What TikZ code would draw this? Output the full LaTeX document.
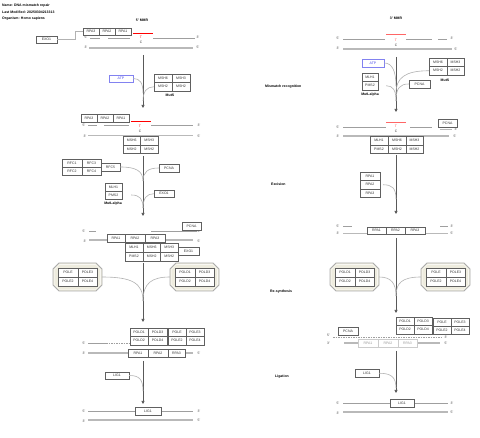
\documentclass[tikz,border=0pt]{standalone}
\usepackage{fontspec}
\setmainfont{Liberation Sans}
\usetikzlibrary{arrows.meta}
\definecolor{ivory}{RGB}{238,236,222}
\definecolor{atpblue}{RGB}{70,70,235}
\definecolor{atpedge}{RGB}{130,130,240}
\tikzset{
 gp/.style={draw=gray!75!black, line width=0.45pt, fill=white, inner sep=0pt, font=\fontsize{3.5}{4}\selectfont, text=black!80},
 strand/.style={draw=gray!75, line width=0.7pt},
 strandb/.style={draw=gray!55, line width=1.1pt},
 lbl/.style={font=\fontsize{3.4}{4}\selectfont, inner sep=0pt, text=black!75},
 flow/.style={draw=gray!60, line width=0.6pt},
 mainln/.style={draw=black!65, line width=0.7pt},
 tipped/.style={-{Triangle[length=3pt,width=3pt]}},
 hdr/.style={font=\bfseries\fontsize{3.5}{4}\selectfont, inner sep=0pt, anchor=west},
 grp/.style={font=\bfseries\fontsize{3.5}{4}\selectfont, inner sep=0pt},
 oct/.style={draw=gray!65, fill=ivory, line width=0.9pt},
 octin/.style={draw=white, line width=0.3pt},
 mm/.style={draw=red, line width=1pt},
 atpbox/.style={gp, draw=atpedge, text=atpblue, line width=0.6pt},
}
\newcommand\bx[6]{\node[gp, minimum width={(#4-#2)*1pt}, minimum height={(#5-#3)*1pt}] (#1) at ({(#2+#4)/2},{(#3+#5)/2}) {#6};}
\newcommand\fbx[6]{\node[gp, draw=gray!40, text=black!40, minimum width={(#4-#2)*1pt}, minimum height={(#5-#3)*1pt}] (#1) at ({(#2+#4)/2},{(#3+#5)/2}) {#6};}
\newcommand\octa[5]{\draw[oct] (#2+6,#3) -- (#4-6,#3) -- (#4,#3+6) -- (#4,#5-6) -- (#4-6,#5) -- (#2+6,#5) -- (#2,#5-6) -- (#2,#3+6) -- cycle;
 \draw[octin] (#2+6.6,#3+1.4) -- (#4-6.6,#3+1.4) -- (#4-1.4,#3+6.6) -- (#4-1.4,#5-6.6) -- (#4-6.6,#5-1.4) -- (#2+6.6,#5-1.4) -- (#2+1.4,#5-6.6) -- (#2+1.4,#3+6.6) -- cycle;
 \coordinate (#1W) at (#2,{(#3+#5)/2}); \coordinate (#1E) at (#4,{(#3+#5)/2});}
\begin{document}
\begin{tikzpicture}[x=1pt,y=-1pt]
\useasboundingbox (0,0) rectangle (480,438);
\fill[white] (0,0) rectangle (480,438);
% header
\node[hdr] (h1) at (2,6) {Name: DNA mismatch repair};
\node[hdr] (h2) at (2,12.5) {Last Modified: 20250304213313};
\node[hdr] (h3) at (2,19) {Organism: Homo sapiens};
\node[grp] (t1) at (142,20) {5' MMR};
\node[grp] (t2) at (396,18) {3' MMR};
% section labels
\node[hdr] (s1) at (265,87) {Mismatch recognition};
\node[hdr] (s2) at (271,184.5) {Excision};
\node[hdr] (s3) at (270,292) {Re-synthesis};
\node[hdr] (s4) at (275,376.5) {Ligation};

%%%%%%%% LEFT STAGE 1
\draw[strand] (90,38) -- (100,38) (108,38) -- (130,38) (153,38) -- (195,38);
\draw[strandb] (89,48) -- (193,48);
\draw[mm] (133,34) -- (153,34);
\node[lbl,text=red] (lT1) at (141,37.5) {T};
\node[lbl] (lC1) at (141,42) {C};
\node[lbl] (a1) at (86,37) {5'}; \node[lbl] (a2) at (198,37) {3'};
\node[lbl] (a3) at (86,47.5) {3'}; \node[lbl] (a4) at (198,47.5) {5'};
\bx{exoA}{36}{36}{57}{43}{EXO1}
\bx{rpa3A}{83}{28}{99}{35}{RPA3}
\bx{rpa2A}{99}{28}{115}{35}{RPA2}
\bx{rpa1A}{115}{28}{131}{35}{RPA1}
\coordinate (ea1) at (75,39.5); \coordinate (ea2) at (75,31.5);
\draw[flow] (exoA.east) -- (ea1) -- (ea2) -- (rpa3A.west);
\coordinate (m1s) at (143,55); \coordinate (m1e) at (143,108);
\draw[mainln,tipped] (m1s) -- (m1e);
\node[atpbox,minimum width=24pt,minimum height=7pt] (atpA) at (121,78.5) {ATP};
\bx{msh6A}{154}{74}{172}{82.5}{MSH6}
\bx{msh3A}{172}{74}{190}{82.5}{MSH3}
\bx{msh2A}{154}{82.5}{172}{91}{MSH2}
\bx{msh2bA}{172}{82.5}{190}{91}{MSH2}
\node[grp] (mutsA) at (170,95.5) {MutS};
\coordinate (j1a) at (143,93); \coordinate (j1b) at (143,101);
\draw[flow] (atpA.east) .. controls (140,78.5) and (143,83) .. (j1a);
\draw[flow] (msh2A.west) .. controls (147,87) and (143,91) .. (j1b);

%%%%%%%% LEFT STAGE 2
\draw[strand] (88,125.5) -- (97,125.5) (104,125.5) -- (129,125.5) (151,125.5) -- (193,125.5);
\draw[strandb] (88,135.5) -- (193,135.5);
\draw[mm] (131,122) -- (151,122);
\node[lbl,text=red] (lT2) at (140,126) {T};
\node[lbl] (lC2) at (140,131) {C};
\node[lbl] (b1) at (84,125) {5'}; \node[lbl] (b2) at (199,125) {3'};
\node[lbl] (b3) at (85,136) {3'}; \node[lbl] (b4) at (199,136) {5'};
\bx{rpa3B}{81}{114}{97}{122}{RPA3}
\bx{rpa2B}{97}{114}{113}{122}{RPA2}
\bx{rpa1B}{113}{114}{129}{122}{RPA1}
\bx{msh6B}{123}{136.5}{140.5}{144.8}{MSH6}
\bx{msh3B}{140.5}{136.5}{158}{144.8}{MSH3}
\bx{msh2B}{123}{144.8}{140.5}{153}{MSH2}
\bx{msh2bB}{140.5}{144.8}{158}{153}{MSH2}
\coordinate (m2s) at (143,156); \coordinate (m2e) at (143,216);
\draw[mainln,tipped] (m2s) -- (m2e);
\bx{rfc1B}{62}{159}{82}{167}{RFC1}
\bx{rfc3B}{82}{159}{101}{167}{RFC3}
\bx{rfc2B}{62}{167}{82}{175}{RFC2}
\bx{rfc4B}{82}{167}{101}{175}{RFC4}
\bx{rfc5B}{101}{163}{120}{171}{RFC5}
\bx{pcnaB}{159}{164}{179}{172}{PCNA}
\bx{mlh1B}{105}{183}{122}{191}{MLH1}
\bx{pms2B}{105}{191}{122}{199}{PMS2}
\node[grp] (mutlB) at (113,203.5) {MutLalpha};
\bx{exoB}{154}{190}{174}{197.5}{EXO1}
\coordinate (j2a) at (143,181); \coordinate (j2b) at (143,208);
\draw[flow] (rfc5B.east) .. controls (136,167) and (143,171) .. (j2a);
\draw[flow] (pcnaB.west) .. controls (148,168) and (143,172) .. (j2a);
\draw[flow,shorten <=9pt] (pms2B.east) .. controls (140,195) and (143,199) .. (j2b);
\draw[flow] (exoB.west) .. controls (147,193.75) and (143,198) .. (j2b);

%%%%%%%% LEFT STAGE 3
\draw[strand] (89,231) -- (96,231) (151,231) -- (197,231);
\draw[strandb] (89,240) -- (193,240);
\node[lbl] (c1) at (84,231) {5'}; \node[lbl] (c2) at (199,231.5) {3'};
\node[lbl] (c3) at (85,241) {3'}; \node[lbl] (c4) at (199,241) {5'};
\bx{pcnaC}{182}{222}{201}{230}{PCNA}
\bx{rpa1C}{107}{234}{125}{242}{RPA1}
\bx{rpa2C}{125}{234}{145}{242}{RPA2}
\bx{rpa3C}{145}{234}{165}{242}{RPA3}
\bx{mlh1C}{125}{243}{143}{252}{MLH1}
\bx{msh6C}{143}{243}{160.5}{252}{MSH6}
\bx{msh3C}{160.5}{243}{178}{252}{MSH3}
\bx{pms2C}{125}{252}{143}{261}{PMS2}
\bx{msh2C}{143}{252}{160.5}{261}{MSH2}
\bx{msh2bC}{160.5}{252}{178}{261}{MSH2}
\bx{exoC}{178}{247}{199}{255}{EXO1}
\coordinate (m3s) at (143,263); \coordinate (m3e) at (143,322);
\draw[mainln,tipped] (m3s) -- (m3e);
\octa{oL}{53}{263}{102}{291}
\bx{poleC}{58}{268}{78}{277}{POLE}
\bx{pole3C}{78}{268}{97}{277}{POLE3}
\bx{pole2C}{58}{277}{78}{286}{POLE2}
\bx{pole4C}{78}{277}{97}{286}{POLE4}
\octa{oR}{170}{263}{219}{291}
\bx{pold1C}{175}{268}{195}{277}{POLD1}
\bx{pold3C}{195}{268}{214}{277}{POLD3}
\bx{pold2C}{175}{277}{195}{286}{POLD2}
\bx{pold4C}{195}{277}{214}{286}{POLD4}
\coordinate (j3) at (143,301);
\draw[flow] (oLE) .. controls (132,277) and (143,283) .. (j3);
\draw[flow] (oRW) .. controls (152,277) and (143,283) .. (j3);

%%%%%%%% LEFT STAGE 4
\draw[strand] (88,343.5) -- (106,343.5);
\draw[strand,dashed,dash pattern=on 1.5pt off 1pt] (106,343.5) -- (130,343.5);
\draw[strandb] (88,353) -- (193,353);
\node[lbl] (d1) at (84,343.5) {5'};
\node[lbl] (d3) at (84,353.5) {3'}; \node[lbl] (d4) at (199,353.5) {5'};
\bx{pold1D}{130}{328}{148}{336.5}{POLD1}
\bx{pold3D}{148}{328}{167}{336.5}{POLD3}
\bx{pold2D}{130}{336.5}{148}{345}{POLD2}
\bx{pold4D}{148}{336.5}{167}{345}{POLD4}
\bx{poleD}{168}{328}{186}{336.5}{POLE}
\bx{pole3D}{186}{328}{204}{336.5}{POLE3}
\bx{pole2D}{168}{336.5}{186}{345}{POLE2}
\bx{pole4D}{186}{336.5}{204}{345}{POLE4}
\bx{rpa1D}{128}{349}{148}{357}{RPA1}
\bx{rpa2D}{148}{349}{168}{357}{RPA2}
\bx{rpa3D}{168}{349}{185}{357}{RPA3}
\coordinate (m4s) at (143,361); \coordinate (m4e) at (143,404);
\draw[mainln,tipped] (m4s) -- (m4e);
\bx{ligD}{105}{372}{129}{379}{LIG1}
\coordinate (j4) at (143,391);
\draw[flow] (ligD.east) .. controls (139,375.5) and (143,379) .. (j4);
\draw[strand] (88,411) -- (135,411) (161,411) -- (193,411);
\draw[strandb] (88,420) -- (193,420);
\bx{ligE}{135}{407}{161}{415}{LIG1}
\node[lbl] (e1) at (84,411) {5'}; \node[lbl] (e2) at (199,411) {3'};
\node[lbl] (e3) at (84,421.5) {3'}; \node[lbl] (e4) at (199,420.5) {5'};

%%%%%%%% RIGHT STAGE 1
\draw[strand] (343,39) -- (385,39) (406,39) -- (432,39) (438,39) -- (447,39);
\draw[strandb] (343,49) -- (452,49);
\draw[mm,draw=red!60] (386,35) -- (406,35);
\node[lbl,text=red!70] (rT1) at (396,40) {T};
\node[lbl] (rC1) at (396,45) {C};
\node[lbl] (f1) at (338,38.5) {5'}; \node[lbl] (f2) at (452,38.5) {3'};
\node[lbl] (f3) at (338,48.5) {3'}; \node[lbl] (f4) at (456,49) {5'};
\coordinate (r1s) at (396,57); \coordinate (r1e) at (396,112);
\draw[mainln,tipped] (r1s) -- (r1e);
\node[atpbox,minimum width=22pt,minimum height=8pt] (atpR) at (373,63) {ATP};
\bx{msh6R}{429}{58}{447}{66.5}{MSH6}
\bx{msh3R}{447}{58}{464}{66.5}{MSH3}
\bx{msh2R}{429}{66.5}{447}{75}{MSH2}
\bx{msh2bR}{447}{66.5}{464}{75}{MSH2}
\node[grp] (mutsR) at (445,80) {MutS};
\bx{mlh1R}{362}{73}{378}{81.5}{MLH1}
\bx{pms2R}{362}{81.5}{378}{90}{PMS2}
\node[grp] (mutlR) at (370,95) {MutLalpha};
\bx{pcnaR}{409}{80}{430}{88}{PCNA}
\coordinate (k1a) at (396,86); \coordinate (k1b) at (396,93); \coordinate (k1c) at (396,101);
\draw[flow] (atpR.east) .. controls (392,63) and (396,71) .. (k1a);
\draw[flow] (msh2R.west) .. controls (405,70.75) and (396,78) .. (k1b);
\draw[flow,shorten <=8pt] (pms2R.east) .. controls (393,85.75) and (396,90) .. (k1c);
\draw[flow] (pcnaR.west) .. controls (400,84) and (396,88) .. (k1c);

%%%%%%%% RIGHT STAGE 2
\draw[strand] (343,127) -- (386,127) (410,127) -- (432,127);
\draw[strandb] (440,129.5) -- (452,129.5);
\draw[strandb] (343,136) -- (449,136);
\draw[mm,draw=red!60] (386,122.5) -- (406,122.5);
\node[lbl,text=red!70] (rT2) at (396,126) {T};
\node[lbl] (rC2) at (396,131) {C};
\node[lbl] (g1) at (338,127.5) {5'}; \node[lbl] (g2) at (456,129) {3'};
\node[lbl] (g3) at (338,136.5) {3'}; \node[lbl] (g4) at (455,136.5) {5'};
\bx{pcnaRB}{438}{119}{457}{127.5}{PCNA}
\bx{mlh1RB}{370}{136.5}{388}{144.8}{MLH1}
\bx{msh6RB}{388}{136.5}{406}{144.8}{MSH6}
\bx{msh3RB}{406}{136.5}{423}{144.8}{MSH3}
\bx{pms2RB}{370}{144.8}{388}{153}{PMS2}
\bx{msh2RB}{388}{144.8}{406}{153}{MSH2}
\bx{msh2bRB}{406}{144.8}{423}{153}{MSH2}
\coordinate (r2s) at (396,155); \coordinate (r2e) at (396,214);
\draw[mainln,tipped] (r2s) -- (r2e);
\bx{rpa1RB}{360}{172}{380}{180.5}{RPA1}
\bx{rpa2RB}{360}{180.5}{380}{189}{RPA2}
\bx{rpa3RB}{360}{189}{380}{197.5}{RPA3}
\coordinate (k2) at (396,199);
\draw[flow,shorten <=3pt] (rpa2RB.east) .. controls (392,184.75) and (396,188) .. (k2);

%%%%%%%% RIGHT STAGE 3
\draw[strand] (343,226) -- (352,226) (440,226) -- (448,226);
\draw[strandb] (343,233.5) -- (448,233.5);
\node[lbl] (p1) at (338,226) {5'}; \node[lbl] (p2) at (452,226) {3'};
\node[lbl] (p3) at (338,233.5) {3'}; \node[lbl] (p4) at (452,233.5) {5'};
\bx{rpa1RC}{367}{227}{386}{234.5}{RPA1}
\bx{rpa2RC}{386}{227}{405}{234.5}{RPA2}
\bx{rpa3RC}{405}{227}{425}{234.5}{RPA3}
\coordinate (r3s) at (396,238); \coordinate (r3e) at (396,313);
\draw[mainln,tipped] (r3s) -- (r3e);
\octa{qL}{330}{263}{379}{291}
\bx{pold1RC}{335}{268}{355}{277}{POLD1}
\bx{pold3RC}{355}{268}{374}{277}{POLD3}
\bx{pold2RC}{335}{277}{355}{286}{POLD2}
\bx{pold4RC}{355}{277}{374}{286}{POLD4}
\octa{qR}{421}{263}{470}{291}
\bx{poleRC}{426}{268}{446}{277}{POLE}
\bx{pole3RC}{446}{268}{465}{277}{POLE3}
\bx{pole2RC}{426}{277}{446}{286}{POLE2}
\bx{pole4RC}{446}{277}{465}{286}{POLE4}
\coordinate (k3) at (396,296);
\draw[flow] (qLE) .. controls (391,277) and (396,283) .. (k3);
\draw[flow] (qRW) .. controls (402,277) and (396,283) .. (k3);

%%%%%%%% RIGHT STAGE 4
\draw[strand,dashed,dash pattern=on 1.5pt off 1pt] (333,337) -- (441,337);
\draw[strandb] (344,343) -- (440,343);
\node[lbl] (q1) at (328.5,335.5) {5'}; \node[lbl] (q2) at (446,337) {3'};
\node[lbl] (q3) at (328.5,343.5) {3'}; \node[lbl] (q4) at (446,343.5) {5'};
\bx{pcnaRD}{338}{327}{358}{335}{PCNA}
\bx{pold1RD}{396}{317}{414}{325.5}{POLD1}
\bx{pold3RD}{414}{317}{432}{325.5}{POLD3}
\bx{pold2RD}{396}{325.5}{414}{334}{POLD2}
\bx{pold4RD}{414}{325.5}{432}{334}{POLD4}
\bx{poleRD}{433}{318}{451}{326.2}{POLE}
\bx{pole3RD}{451}{318}{469}{326.2}{POLE3}
\bx{pole2RD}{433}{326.2}{451}{334.5}{POLE2}
\bx{pole4RD}{451}{326.2}{469}{334.5}{POLE4}
\fbx{rpa1RD}{358}{339}{378}{347.5}{RPA1}
\fbx{rpa2RD}{378}{339}{398}{347.5}{RPA2}
\fbx{rpa3RD}{398}{339}{417}{347.5}{RPA3}
\coordinate (r4s) at (396,351); \coordinate (r4e) at (396,393);
\draw[mainln,tipped] (r4s) -- (r4e);
\bx{ligRD}{355}{369.5}{379}{377}{LIG1}
\coordinate (k4) at (396,388);
\draw[flow] (ligRD.east) .. controls (391,373.25) and (396,377) .. (k4);
\draw[strand] (343,403) -- (390,403) (414,403) -- (448,403);
\draw[strandb] (343,412) -- (448,412);
\bx{ligRE}{390}{399}{414}{407}{LIG1}
\node[lbl] (u1) at (338,403) {5'}; \node[lbl] (u2) at (452,403) {3'};
\node[lbl] (u3) at (338,413) {3'}; \node[lbl] (u4) at (452,412) {5'};
\end{tikzpicture}
\end{document}
